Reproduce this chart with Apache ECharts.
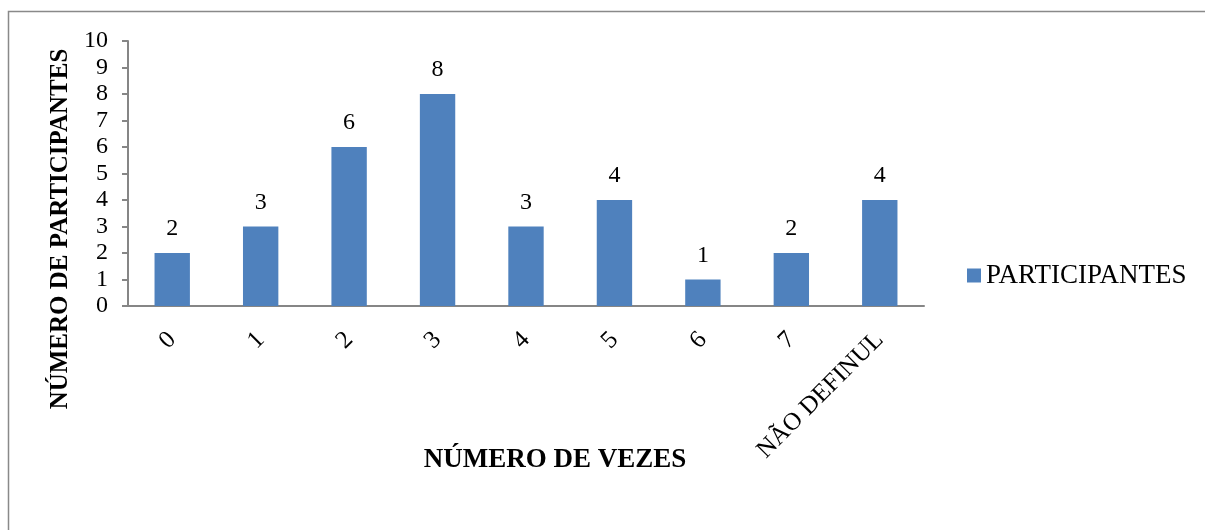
<!DOCTYPE html>
<html>
<head>
<meta charset="utf-8">
<script src="https://cdn.jsdelivr.net/npm/echarts@6/dist/echarts.min.js"></script>
<style>
html,body{margin:0;padding:0;background:#fff;}
#chart{width:1205px;height:530px;}
</style>
</head>
<body>
<div id="chart"></div>
<script>
const categories = ['0', '1', '2', '3', '4', '5', '6', '7', 'NÃO DEFINUL'];
const participantes = [2, 3, 6, 8, 3, 4, 1, 2, 4];
const seriesName = 'PARTICIPANTES';
const xTitle = 'NÚMERO DE VEZES';
const yTitle = 'NÚMERO DE PARTICIPANTES';

const font = '"Liberation Serif", "Times New Roman", serif';
const chart = echarts.init(document.getElementById('chart'));
chart.setOption({
  backgroundColor: '#fff',
  animation: false,
  textStyle: { fontFamily: font },
  grid: { left: 128, right: 281, top: 41, bottom: 224, containLabel: false },
  legend: {
    data: [seriesName],
    left: 962, top: 257,
    icon: 'rect', itemWidth: 14, itemHeight: 14, itemGap: 5,
    textStyle: { fontFamily: font, fontSize: 27, color: '#000' }
  },
  xAxis: {
    type: 'category',
    data: categories,
    axisLine: { lineStyle: { color: '#868686', width: 2 } },
    axisTick: { show: false },
    axisLabel: { rotate: 45, margin: 30, fontFamily: font, fontSize: 25, color: '#000', interval: 0 }
  },
  yAxis: {
    type: 'value', min: 0, max: 10, interval: 1,
    axisLine: { show: true, lineStyle: { color: '#868686', width: 2 } },
    axisTick: { show: true, length: 6, lineStyle: { color: '#868686', width: 2 } },
    axisLabel: { margin: 20, fontFamily: font, fontSize: 24, color: '#000' },
    splitLine: { show: false }
  },
  series: [{
    name: seriesName,
    type: 'bar',
    data: participantes,
    barWidth: '40%',
    itemStyle: { color: '#4F81BD' },
    label: { show: true, position: 'top', distance: 12, fontFamily: font, fontSize: 24, color: '#000' }
  }],
  graphic: [
    { type: 'rect', shape: { x: 8.5, y: 11.5, width: 1400, height: 700 }, style: { fill: 'none', stroke: '#898989', lineWidth: 1.5 }, silent: true, z: -1 },
    { type: 'text', x: 61, y: 229, rotation: Math.PI / 2, style: { text: yTitle, font: 'bold 25px ' + font, fill: '#000', textAlign: 'center', textVerticalAlign: 'middle' } },
    { type: 'text', x: 555, y: 460, style: { text: xTitle, font: 'bold 27px ' + font, fill: '#000', textAlign: 'center', textVerticalAlign: 'middle' } }
  ]
});
</script>
</body>
</html>
